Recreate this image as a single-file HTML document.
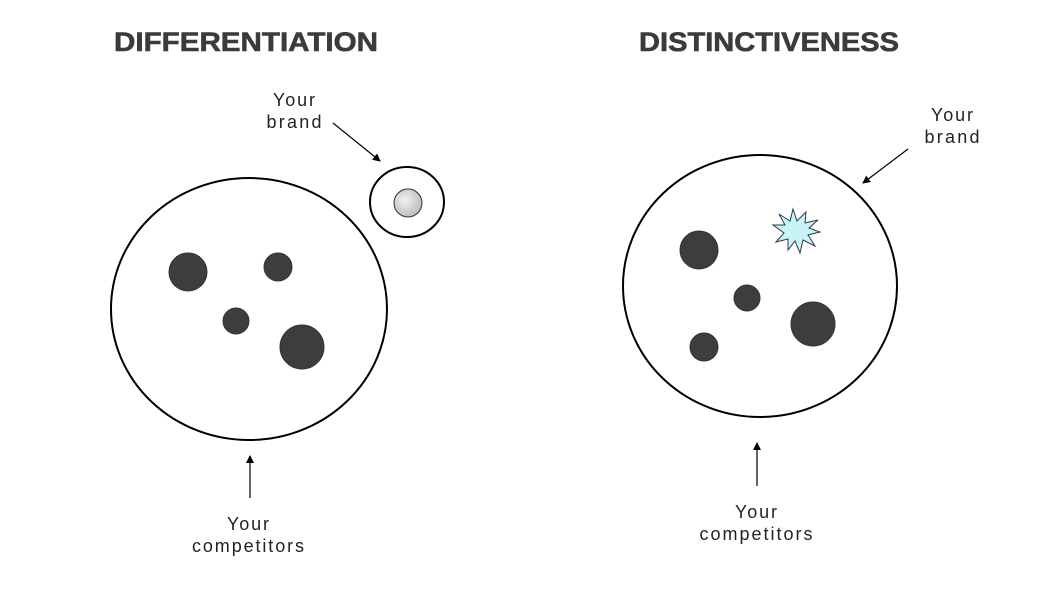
<!DOCTYPE html>
<html><head><meta charset="utf-8"><style>
html,body{margin:0;padding:0;background:#fff;}
svg{display:block;}
text{font-family:"Liberation Sans",sans-serif;}
</style></head><body>
<svg width="1054" height="593" viewBox="0 0 1054 593" xmlns="http://www.w3.org/2000/svg">
<defs>
<marker id="ah" markerWidth="8" markerHeight="8" refX="7" refY="4" orient="auto" markerUnits="userSpaceOnUse">
<path d="M0,0 L8,4 L0,8 z" fill="#000"/>
</marker>
<radialGradient id="g1" cx="40%" cy="40%" r="60%"><stop offset="0" stop-color="#f2f2f2"/><stop offset="1" stop-color="#bdbdbd"/></radialGradient>
</defs>
<text x="246" y="51" text-anchor="middle" font-size="27" font-weight="bold" fill="#3b3b3b" stroke="#3b3b3b" stroke-width="0.6" textLength="264" lengthAdjust="spacingAndGlyphs">DIFFERENTIATION</text>
<text x="769" y="51" text-anchor="middle" font-size="27" font-weight="bold" fill="#3b3b3b" stroke="#3b3b3b" stroke-width="0.6" textLength="260" lengthAdjust="spacingAndGlyphs">DISTINCTIVENESS</text>

<g font-size="18" fill="#222" text-anchor="middle" lengthAdjust="spacingAndGlyphs">
<text x="294" y="106" textLength="42">Your</text><text x="294" y="128" textLength="55">brand</text>
<text x="952" y="121" textLength="42">Your</text><text x="952" y="143" textLength="55">brand</text>
<text x="248" y="530" textLength="42">Your</text><text x="248" y="552" textLength="112">competitors</text>
<text x="756" y="518" textLength="42">Your</text><text x="756" y="540" textLength="113">competitors</text>
</g>

<g fill="none" stroke="#000" stroke-width="2">
<ellipse cx="249" cy="309" rx="138" ry="131"/>
<ellipse cx="407" cy="202" rx="37" ry="35"/>
<ellipse cx="760" cy="286" rx="137" ry="131"/>
</g>
<circle cx="408" cy="203" r="14" fill="url(#g1)" stroke="#333" stroke-width="1"/>

<g fill="#3d3d3d" stroke="#2a3550" stroke-width="1">
<circle cx="188" cy="272" r="19"/><circle cx="278" cy="267" r="14"/>
<circle cx="236" cy="321" r="13"/><circle cx="302" cy="347" r="22"/>
<circle cx="699" cy="250" r="19"/><circle cx="747" cy="298" r="13"/>
<circle cx="813" cy="324" r="22"/><circle cx="704" cy="347" r="14"/>
</g>

<polygon fill="#c8f4f6" stroke="#2a3a50" stroke-width="1"
points="820,232 808,235 815,246 803,240 800,253 795,241 788,250 788,239 776,242 784,233 773,225 785,225 779,214 790,221 793,209 797,221 806,212 805,223 818,220 809,228"/>

<g stroke="#000" stroke-width="1.2" marker-end="url(#ah)">
<line x1="333" y1="123" x2="380" y2="161"/>
<line x1="250" y1="498" x2="250" y2="456"/>
<line x1="908" y1="149" x2="863" y2="183"/>
<line x1="757" y1="486" x2="757" y2="443"/>
</g>
</svg>
</body></html>
